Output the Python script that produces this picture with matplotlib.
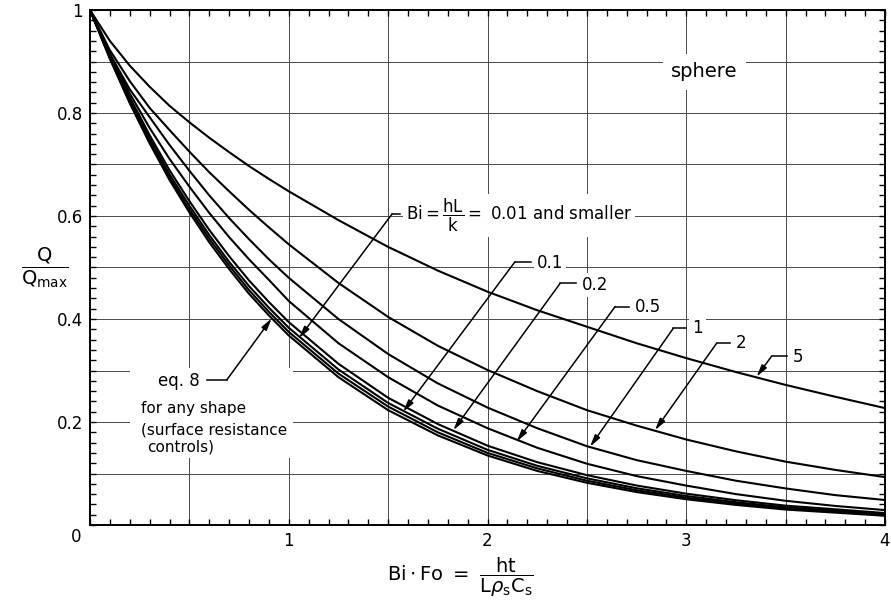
import matplotlib
matplotlib.use('Agg')
import matplotlib.pyplot as plt
from matplotlib.ticker import MultipleLocator, FuncFormatter
from matplotlib.patches import Rectangle

plt.rcParams['font.family'] = 'DejaVu Sans'
plt.rcParams['mathtext.fontset'] = 'dejavusans'

# values (Bi*Fo on x, Q/Qmax on y)
bifo = [0, 0.1, 0.2, 0.3, 0.4, 0.5, 0.6, 0.7, 0.8, 0.9, 1.0,
        1.25, 1.5, 1.75, 2.0, 2.25, 2.5, 2.75, 3.0, 3.25, 3.5, 3.75, 4.0]

q_eq8 = [1.000, 0.905, 0.819, 0.741, 0.670, 0.607, 0.549, 0.497, 0.449, 0.407, 0.368,
         0.287, 0.223, 0.174, 0.135, 0.105, 0.082, 0.064, 0.050, 0.039, 0.030, 0.024, 0.018]
q_bi001 = [1.000, 0.907, 0.822, 0.745, 0.675, 0.613, 0.556, 0.504, 0.456, 0.414, 0.375,
           0.294, 0.230, 0.180, 0.140, 0.110, 0.086, 0.0675, 0.053, 0.0415, 0.032, 0.0258, 0.0195]
q_bi01 = [1.000, 0.909, 0.826, 0.751, 0.681, 0.620, 0.563, 0.511, 0.464, 0.422, 0.383,
          0.302, 0.237, 0.187, 0.146, 0.115, 0.0906, 0.0714, 0.0563, 0.0443, 0.0344, 0.0278, 0.021]
q_bi02 = [1.000, 0.912, 0.831, 0.757, 0.689, 0.629, 0.573, 0.522, 0.475, 0.433, 0.394,
          0.313, 0.247, 0.196, 0.154, 0.122, 0.0968, 0.0767, 0.0608, 0.0481, 0.0376, 0.0305, 0.0232]
q_bi05 = [1.000, 0.913, 0.838, 0.771, 0.711, 0.657, 0.606, 0.559, 0.516, 0.476, 0.435,
          0.353, 0.287, 0.232, 0.188, 0.150, 0.119, 0.095, 0.0765, 0.060, 0.047, 0.037, 0.029]
q_bi1 = [1.000, 0.915, 0.846, 0.792, 0.738, 0.688, 0.640, 0.596, 0.555, 0.516, 0.480,
         0.400, 0.332, 0.275, 0.228, 0.188, 0.153, 0.126, 0.105, 0.086, 0.071, 0.058, 0.0485]
q_bi2 = [1.000, 0.922, 0.862, 0.810, 0.767, 0.725, 0.685, 0.648, 0.612, 0.578, 0.545,
         0.470, 0.404, 0.348, 0.301, 0.260, 0.223, 0.193, 0.166, 0.143, 0.123, 0.107, 0.093]
q_bi5 = [1.000, 0.940, 0.892, 0.851, 0.814, 0.782, 0.752, 0.724, 0.697, 0.672, 0.648,
         0.592, 0.540, 0.494, 0.453, 0.417, 0.385, 0.353, 0.324, 0.297, 0.272, 0.249, 0.227]

curves = [q_eq8, q_bi001, q_bi01, q_bi02, q_bi05, q_bi1, q_bi2, q_bi5]

fig = plt.figure(figsize=(8.91, 6.03), dpi=100)
ax = fig.add_axes([90 / 891, 78 / 603, 795 / 891, 515 / 603])

for q in curves:
    ax.plot(bifo, q, color='black', lw=1.5, solid_capstyle='butt', zorder=2)

ax.set_xlim(0, 4)
ax.set_ylim(0, 1)

# grid every 0.5 / 0.1, minor ticks inside on all four sides
ax.xaxis.set_major_locator(MultipleLocator(0.5))
ax.xaxis.set_minor_locator(MultipleLocator(0.1))
ax.yaxis.set_major_locator(MultipleLocator(0.1))
ax.yaxis.set_minor_locator(MultipleLocator(0.02))
ax.grid(True, which='major', color='#4a4a4a', lw=0.7)
ax.set_axisbelow(True)


def xfmt(v, pos):
    if abs(v - round(v)) < 1e-6 and round(v) > 0:
        return str(int(round(v)))
    return ''


def yfmt(v, pos):
    n = int(round(v * 10))
    if n == 10:
        return '1'
    if n > 0 and n % 2 == 0:
        return '%.1f' % v
    return ''


ax.xaxis.set_major_formatter(FuncFormatter(xfmt))
ax.yaxis.set_major_formatter(FuncFormatter(yfmt))
ax.tick_params(which='both', direction='in', top=True, right=True, width=1.0,
               labelsize=12, pad=5)
ax.tick_params(which='minor', length=4.5)
ax.tick_params(which='major', length=4.5)
for s in ax.spines.values():
    s.set_linewidth(1.4)
ax.text(-0.018, -0.024, '0', transform=ax.transAxes, ha='center', va='center', fontsize=12)

# axis titles
fig.text(45 / 891, 1 - 268 / 603, r'$\dfrac{\mathrm{Q}}{\mathrm{Q_{max}}}$',
         ha='center', va='center', fontsize=14)
fig.text(460 / 891, 1 - 577 / 603,
         r'$\mathrm{Bi\cdot Fo}\ =\ \dfrac{\mathrm{ht}}{\mathrm{L}\rho_{\mathrm{s}}\mathrm{C}_{\mathrm{s}}}$',
         ha='center', va='center', fontsize=14)

wbox = dict(fc='white', ec='none', pad=2)
ax.text(3.09, 0.88, 'sphere', ha='center', va='center', fontsize=14,
        bbox=dict(fc='white', ec='none', pad=6))

# labels with leader lines: (text, tip, elbow, text x, text y)
labels = [
    (r'$\mathrm{Bi} = \dfrac{\mathrm{hL}}{\mathrm{k}} = $ 0.01 and smaller',
     (1.052, 0.363), (1.52, 0.604), 1.59, 0.601),
    ('0.1', (1.576, 0.220), (2.138, 0.511), 2.25, 0.508),
    ('0.2', (1.828, 0.184), (2.365, 0.469), 2.475, 0.466),
    ('0.5', (2.147, 0.162), (2.642, 0.424), 2.742, 0.423),
    ('1', (2.516, 0.152), (2.935, 0.382), 3.03, 0.382),
    ('2', (2.843, 0.184), (3.153, 0.353), 3.25, 0.353),
    ('5', (3.354, 0.288), (3.430, 0.328), 3.537, 0.326),
]
for txt, tip, elbow, tx, ty in labels:
    ax.plot([elbow[0], tx - 0.03], [elbow[1], elbow[1]], color='black', lw=1.1, zorder=3)
    ax.annotate('', xy=tip, xytext=elbow,
                arrowprops=dict(arrowstyle='-|>,head_length=0.7,head_width=0.18',
                                color='black', lw=1.1, shrinkA=0, shrinkB=0))
    ax.text(tx, ty, txt, ha='left', va='center', fontsize=12, bbox=wbox, zorder=4)

# eq. 8 block
ax.add_patch(Rectangle((0.2, 0.13), 0.82, 0.175, fc='white', ec='none', zorder=1))
ax.plot([0.59, 0.688], [0.2816, 0.2816], color='black', lw=1.1, zorder=3)
ax.annotate('', xy=(0.914, 0.401), xytext=(0.688, 0.2816),
            arrowprops=dict(arrowstyle='-|>,head_length=0.7,head_width=0.18',
                            color='black', lw=1.1, shrinkA=0, shrinkB=0))
ax.text(0.55, 0.28, 'eq. 8', ha='right', va='center', fontsize=12)
ax.text(0.255, 0.227, 'for any shape', ha='left', va='center', fontsize=11)
ax.text(0.255, 0.184, '(surface resistance', ha='left', va='center', fontsize=11)
ax.text(0.285, 0.152, 'controls)', ha='left', va='center', fontsize=11)

fig.savefig('out.png', dpi=100)
